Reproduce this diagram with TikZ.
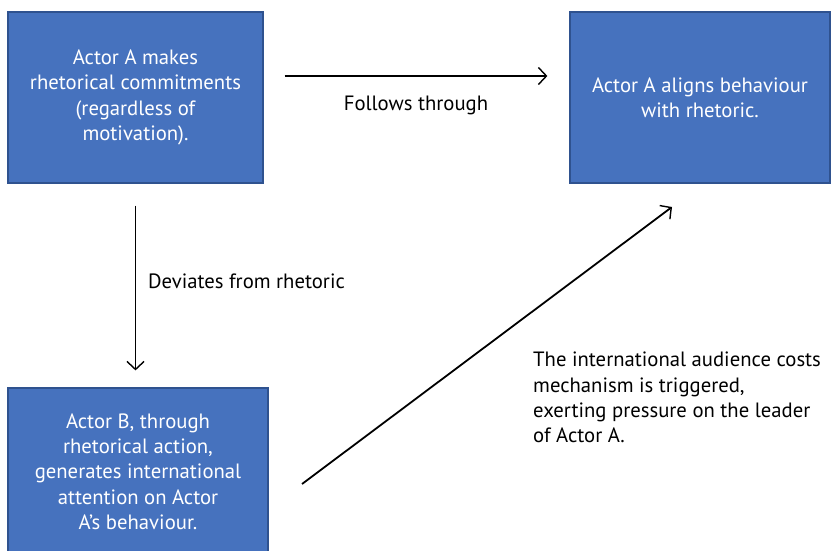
\documentclass[tikz,border=0pt]{standalone}
\usepackage{fontspec}
\setmainfont{PT Sans}
\usepackage{xcolor}
\definecolor{BOXcolor}{HTML}{4672BE}
\definecolor{EDGEcolor}{HTML}{2F528F}
\usetikzlibrary{arrows.meta}

\begin{document}
\begin{tikzpicture}[x=1pt, y=1pt]

    \tikzset{%
        actor/.style={%
                draw=EDGEcolor, line width=1.2pt, fill=BOXcolor, text=white,
                align=center, inner sep=0pt,
                font=\fontsize{20.7}{25.3}\selectfont
            },
        link/.style={%
                line width=1.8pt, -{Straight Barb[length=8pt, width=17pt, line width=1.4pt]}
            },
        note/.style={font=\fontsize{20.7}{25.3}\selectfont, inner sep=0pt}
    }

    \useasboundingbox (0, 0) rectangle (831, 550);

    \node [actor, minimum width=255, minimum height=171] (commit) at (135.5, 452.5)
        {Actor A makes\\ rhetorical commitments\\ (regardless of\\ motivation).};
    \node [actor, minimum width=260, minimum height=171] (align) at (700, 452.5)
        {Actor A aligns behaviour\\ with rhetoric.};
    \node [actor, minimum width=260, minimum height=167] (attend) at (138, 78.5)
        {Actor B, through\\ rhetorical action,\\ generates international\\ attention on Actor\\ A’s behaviour.};

    % arrows between the boxes
    \draw [link, shorten <=21pt, shorten >=22pt]
        ([yshift=21.5pt]commit.east) -- ([yshift=21.5pt]align.west);
    \draw [link, shorten <=22pt, shorten >=17pt]
        (commit.south) -- (commit.south |- attend.north);
    \coordinate (rise) at (302, 66);
    \coordinate (peak) at (672, 343);
    \draw [link] (rise) -- (peak);

    \node [note] (follows) at (416, 445) {Follows through};
    \node [note, anchor=west] (deviates) at (148, 269) {Deviates from rhetoric};
    \node [note, anchor=west, align=left] (costs) at (533, 152.5)
        {The international audience costs\\ mechanism is triggered,\\ exerting pressure on the leader\\ of Actor A.};

\end{tikzpicture}
\end{document}
